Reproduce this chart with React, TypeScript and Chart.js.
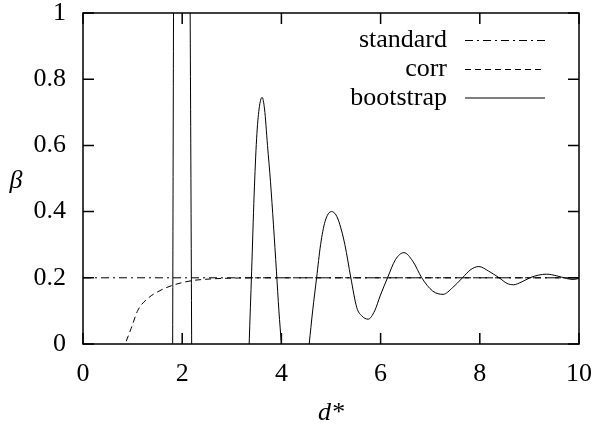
import { useEffect, useRef } from 'react';
import { Chart, registerables } from 'chart.js';
Chart.register(...registerables);

const xTickValues = [0, 2, 4, 6, 8, 10];
const xTickLabels = ['0', '2', '4', '6', '8', '10'];
const yTickValues = [0, 0.2, 0.4, 0.6, 0.8, 1];
const yTickLabels = ['0', '0.2', '0.4', '0.6', '0.8', '1'];
const seriesNames = ['standard', 'corr', 'bootstrap'];
const xTitle = 'd*';
const yTitle = 'β';

const standardX = [0, 10];
const standardY = [0.2, 0.2];

const corrX = [0.8, 0.85, 0.97, 1.11, 1.31, 1.51, 1.78, 2.18, 2.52, 3.0, 4.0, 10.0];
const corrY = [-0.02, 0, 0.047, 0.103, 0.138, 0.158, 0.176, 0.191, 0.196, 0.199, 0.2, 0.2];

const bootstrapX = [1.79, 1.85, 2.0, 2.14, 2.24, 3.3, 3.35, 3.4, 3.45, 3.5, 3.55, 3.61, 3.66, 3.72, 3.78, 3.84, 3.9, 3.95, 4.0, 4.05, 4.5, 4.56, 4.63, 4.71, 4.79, 4.88, 5.01, 5.1, 5.18, 5.28, 5.4, 5.52, 5.62, 5.75, 5.88, 5.99, 6.14, 6.3, 6.47, 6.65, 6.83, 7.05, 7.26, 7.45, 7.65, 7.82, 7.98, 8.18, 8.39, 8.55, 8.68, 8.85, 9.01, 9.18, 9.35, 9.55, 9.75, 9.88, 10.0];
const bootstrapY = [-1, 2, 3, 1.5, -1, -0.25, 0, 0.22, 0.45, 0.62, 0.71, 0.745, 0.71, 0.6, 0.49, 0.36, 0.22, 0.1, 0, -0.1, -0.08, 0, 0.1, 0.2, 0.3, 0.37, 0.4, 0.39, 0.36, 0.3, 0.2, 0.11, 0.085, 0.075, 0.1, 0.145, 0.2, 0.255, 0.276, 0.25, 0.2, 0.16, 0.15, 0.17, 0.2, 0.225, 0.234, 0.22, 0.2, 0.183, 0.179, 0.188, 0.2, 0.208, 0.211, 0.206, 0.198, 0.195, 0.198];

const toPts = (xs: number[], ys: number[]) => xs.map((x, i) => ({ x, y: ys[i] }));

const FONT = "'Liberation Serif', 'Times New Roman', serif";

const framePlugin = {
  id: 'frame',
  afterDraw(chart: any) {
    const { ctx, chartArea: a, scales } = chart;
    ctx.save();
    ctx.strokeStyle = '#000';
    ctx.lineWidth = 1.5;
    ctx.setLineDash([]);
    ctx.strokeRect(a.left, a.top, a.right - a.left, a.bottom - a.top);
    const L = 11;
    ctx.beginPath();
    xTickValues.forEach((v) => {
      const px = scales.x.getPixelForValue(v);
      ctx.moveTo(px, a.bottom);
      ctx.lineTo(px, a.bottom - L);
      ctx.moveTo(px, a.top);
      ctx.lineTo(px, a.top + L);
    });
    yTickValues.forEach((v) => {
      const py = scales.y.getPixelForValue(v);
      ctx.moveTo(a.left, py);
      ctx.lineTo(a.left + L, py);
      ctx.moveTo(a.right, py);
      ctx.lineTo(a.right - L, py);
    });
    ctx.stroke();

    // legend
    const rows = [a.top + 27.5, a.top + 56.5, a.top + 85];
    const textRight = 447;
    const lineStart = 465;
    const lineEnd = 545;
    ctx.font = `26px ${FONT}`;
    ctx.fillStyle = '#000';
    ctx.textAlign = 'right';
    ctx.textBaseline = 'middle';
    chart.data.datasets.forEach((ds: any, i: number) => {
      const y = rows[i];
      ctx.fillText(ds.label, textRight, y);
      ctx.beginPath();
      ctx.lineWidth = ds.borderWidth;
      ctx.setLineDash(ds.borderDash || []);
      ctx.moveTo(lineStart, y);
      ctx.lineTo(lineEnd, y);
      ctx.stroke();
    });
    ctx.setLineDash([]);

    // axis titles
    ctx.font = `italic 26px ${FONT}`;
    ctx.textAlign = 'center';
    ctx.textBaseline = 'middle';
    ctx.fillText(xTitle, (a.left + a.right) / 2, 413);
    ctx.textBaseline = 'alphabetic';
    ctx.fillText(yTitle, 16, 188);
    ctx.restore();
  },
};

export default function App() {
  const ref = useRef<HTMLCanvasElement>(null);
  useEffect(() => {
    if (!ref.current) return;
    const chart = new Chart(ref.current, {
      type: 'line',
      data: {
        datasets: [
          {
            label: seriesNames[0],
            data: toPts(standardX, standardY),
            borderColor: '#000',
            borderWidth: 1,
            borderDash: [8, 4, 2, 4],
            pointRadius: 0,
            fill: false,
          },
          {
            label: seriesNames[1],
            data: toPts(corrX, corrY),
            borderColor: '#000',
            borderWidth: 1,
            borderDash: [6, 4],
            pointRadius: 0,
            cubicInterpolationMode: 'monotone',
            fill: false,
          },
          {
            label: seriesNames[2],
            data: toPts(bootstrapX, bootstrapY),
            borderColor: '#000',
            borderWidth: 1,
            pointRadius: 0,
            cubicInterpolationMode: 'monotone',
            fill: false,
          },
        ],
      },
      options: {
        animation: false,
        responsive: false,
        events: [],
        layout: { padding: { top: 13, right: 16, left: 0, bottom: 0 } },
        plugins: { legend: { display: false }, tooltip: { enabled: false }, title: { display: false } },
        scales: {
          x: {
            type: 'linear',
            min: 0,
            max: 10,
            grid: { display: false, drawTicks: false },
            border: { display: false },
            afterBuildTicks: (s: any) => {
              s.ticks = xTickValues.map((v) => ({ value: v }));
            },
            afterFit: (s: any) => {
              s.height = 87;
              s.paddingLeft = 0;
              s.paddingRight = 0;
            },
            ticks: {
              padding: 15,
              color: '#000',
              font: { family: FONT, size: 26, lineHeight: 1.2 },
              maxRotation: 0,
              autoSkip: false,
              callback: (_v: any, i: number) => xTickLabels[i],
            },
          },
          y: {
            type: 'linear',
            min: 0,
            max: 1,
            grid: { display: false, drawTicks: false },
            border: { display: false },
            afterBuildTicks: (s: any) => {
              s.ticks = yTickValues.map((v) => ({ value: v }));
            },
            afterFit: (s: any) => {
              s.width = 83;
              s.paddingTop = 0;
              s.paddingBottom = 0;
            },
            ticks: {
              padding: 17,
              color: '#000',
              font: { family: FONT, size: 26, lineHeight: 1.2 },
              autoSkip: false,
              callback: (_v: any, i: number) => yTickLabels[i],
            },
          },
        },
      },
      plugins: [framePlugin],
    } as any);
    return () => chart.destroy();
  }, []);
  return (
    <div style={{ position: 'fixed', left: 0, top: 0, width: 595, height: 431, background: '#fff' }}>
      <canvas ref={ref} width={595} height={431} />
    </div>
  );
}
